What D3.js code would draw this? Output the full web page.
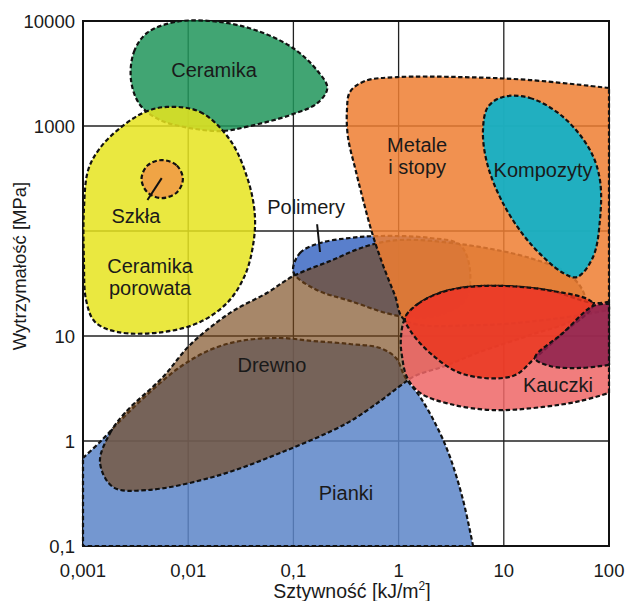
<!DOCTYPE html>
<html><head><meta charset="utf-8">
<script src="https://cdn.jsdelivr.net/npm/d3@7"></script>
<style>
body{margin:0;background:#fff}
svg{display:block}
text{font-family:"Liberation Sans",Arial,Helvetica,sans-serif;fill:#1a1a1a}
</style>
</head><body>
<svg id="chart" width="630" height="601"></svg>
<script>
// ---- axis ticks ----
const xTicks = [0.001, 0.01, 0.1, 1, 10, 100];
const xTickLabels = ["0,001", "0,01", "0,1", "1", "10", "100"];
const yGrid = [0.1, 1, 10, 100, 1000, 10000];
const yTicks = [0.1, 1, 10, 1000, 10000];
const yTickLabels = ["0,1", "1", "10", "1000", "10000"];

// ---- material regions (outline points: stiffness kJ/m², strength MPa) ----
const piankiX = [0.001,0.00145,0.0024,0.00434,0.00837,0.0161,0.0311,0.0745,0.154,0.345,0.666,0.945,1.15,1.6,2.32,3.08,4.1,5.1];
const piankiY = [0.689,0.978,1.66,2.93,5.07,7.36,8.96,9.57,8.96,8.39,7.68,6.17,4.07,2.63,1.36,0.704,0.274,0.1];

const polimeryX = [0.1,0.1155,0.179,0.345,0.666,1.99,3.83,4.77,4.28,2.47,1.03,0.345,0.16];
const polimeryY = [40.7,61.7,76.8,85.8,89.6,85.8,73.6,42.5,22,15.9,15.5,21.6,28];

const drewnoX = [0.00145,0.00181,0.0025,0.00576,0.0104,0.025,0.056,0.1,0.223,0.5,1.03,3.83,17.7,42.6,59,47.5,17.7,5.9,2.76,1.43,1.03,0.666,0.323,0.0745,0.0172,0.00406,0.00193];
const drewnoY = [0.631,1.19,1.85,4.07,8.21,16.6,25.7,37.3,51.8,72,82.1,75.2,55.3,38.1,23,14.8,10.2,7.04,5.18,4.16,3.34,2.4,1.48,0.768,0.454,0.341,0.364];

const ceramikaX = [0.00286,0.00305,0.00406,0.0075,0.018,0.0432,0.099,0.17,0.21,0.17,0.093,0.0387,0.021,0.0104,0.0054,0.00348];
const ceramikaY = [2740,5070,7690,9780,9900,8210,5530,3340,2300,1660,1270,1000,896,956,1140,1590];

const porowataX = [0.0063,0.013,0.025,0.037,0.043,0.0414,0.0347,0.0239,0.013,0.00576,0.00215,0.0013,0.00107,0.00102,0.00102,0.00112,0.00145,0.00225,0.00388];
const porowataY = [1520,1360,736,306,142,73.6,38.1,21.1,13.6,10.9,10.9,13.6,22,53,159,381,617,956,1360];

const szklaX = [0.0056,0.0078,0.0089,0.0078,0.0056,0.0041,0.0036,0.0041];
const szklaY = [474,420,313,233,206,233,313,420];

const metaleX = [100,17.7,4.1,0.966,0.479,0.345,0.323,0.33,0.39,0.46,0.56,0.71,0.92,1.15,5.9,34.2,100];
const metaleY = [2300,2740,2920,2920,2680,2110,1420,786,381,197,95.7,47.4,24.6,14.2,12.7,14.8,17.7];

const kompozytyX = [9.8,17.7,36.6,66,82,82,70.5,49.7,36.6,17.7,9.8,6.93,6.34,7.07];
const kompozytyY = [1890,1850,1220,590,306,127,56.5,36.4,39.8,76.8,185,444,916,1520];

const kauczukiX = [100,70.5,25.7,5.9,2.64,1.53,1.15,1.05,1.08,1.2,1.6,3.08,7.9,23.6,53,100];
const kauczukiY = [21.1,20.6,27.4,29.9,26.3,20.2,14.8,9.16,6.31,4.07,2.87,2.25,1.97,2.11,2.4,2.87];

const redX = [1.15,1.53,2.64,5.9,25.7,70.5,36.6,19.8,12.2,4.1,1.99,1.28];
const redY = [14.8,20.2,26.3,29.9,27.4,20.2,10.7,6.17,4.16,4.34,6.89,11.4];

const purpleX = [100,53,27.5,19.8,36.6,70.5,100];
const purpleY = [5.3,4.96,5.18,6.17,10.7,19.3,20.2];

// ---- labels ----
const labelNames = ["Ceramika","Szkła","Ceramika|porowata","Polimery","Metale|i stopy","Kompozyty","Drewno","Kauczki","Pianki"];
const labelX = [0.0176,0.00319,0.00434,0.132,1.5,23.6,0.0625,32.7,0.316];
const labelY = [3410,139,46.4,169,659,381,5.3,3.41,0.32];

const szklaLineX = [0.0041,0.0056];
const szklaLineY = [197,319];
const polimeryLineX = [0.168,0.179];
const polimeryLineY = [116,63.1];

// ---- drawing ----
const svg = d3.select("#chart");
const x = d3.scaleLog().domain([0.001,100]).range([83,609]);
const y = d3.scaleLog().domain([0.1,10000]).range([546,21]);
const [x0,x1] = x.range(), [y0,y1] = y.range();

svg.append("defs").append("clipPath").attr("id","plotclip")
  .append("rect").attr("x",x0-2).attr("y",y1-2).attr("width",x1-x0+4).attr("height",y0-y1+4);

// grid
const grid = svg.append("g");
grid.selectAll("line.v").data(xTicks).join("line")
  .attr("x1",d=>x(d)).attr("x2",d=>x(d)).attr("y1",y0).attr("y2",y1)
  .attr("stroke","#222").attr("stroke-width",1.3);
grid.selectAll("line.h").data(yGrid).join("line")
  .attr("y1",d=>y(d)).attr("y2",d=>y(d)).attr("x1",x0).attr("x2",x1)
  .attr("stroke","#222").attr("stroke-width",1.3);
grid.append("rect").attr("x",x0).attr("y",y1).attr("width",x1-x0).attr("height",y0-y1)
  .attr("fill","none").attr("stroke","#111").attr("stroke-width",2);

const pts = (xs,ys) => xs.map((v,i)=>[x(v),y(ys[i])]);
const closedLine = d3.line().curve(d3.curveCatmullRomClosed.alpha(0.5));
const openLine = d3.line().curve(d3.curveCatmullRom.alpha(0.5));

const shapes = [
  {d: openLine(pts(piankiX,piankiY)) + "L" + x(xTicks[0]) + "," + y(yGrid[0]) + "Z", fill:"rgb(92,133,200)", op:0.85},
  {d: closedLine(pts(polimeryX,polimeryY)), fill:"rgb(60,105,195)", op:0.85},
  {d: closedLine(pts(drewnoX,drewnoY)), fill:"rgb(120,70,25)", op:0.65},
  {d: closedLine(pts(ceramikaX,ceramikaY)), fill:"rgb(32,149,90)", op:0.85},
  {d: closedLine(pts(porowataX,porowataY)), fill:"rgb(230,228,30)", op:0.85},
  {d: closedLine(pts(szklaX,szklaY)), fill:"rgb(240,160,70)", op:0.95},
  {d: openLine(pts(metaleX,metaleY)) + "Z", fill:"rgb(238,126,49)", op:0.85},
  {d: closedLine(pts(kompozytyX,kompozytyY)), fill:"rgb(10,179,204)", op:0.9},
  {d: openLine(pts(kauczukiX,kauczukiY)) + "Z", fill:"rgb(238,102,102)", op:0.85},
  {d: closedLine(pts(redX,redY)), fill:"rgb(234,54,31)", op:0.85},
  {d: openLine(pts(purpleX,purpleY)) + "Z", fill:"rgb(140,30,75)", op:0.85}
];

const sg = svg.append("g").attr("clip-path","url(#plotclip)");
shapes.forEach(s=>{
  sg.append("path").attr("d",s.d).attr("fill",s.fill).attr("fill-opacity",s.op)
    .attr("stroke","#111").attr("stroke-width",2.2).attr("stroke-dasharray","4.5,2.5")
    .attr("stroke-linejoin","round");
});

// leader lines
[[szklaLineX,szklaLineY],[polimeryLineX,polimeryLineY]].forEach(([lx,ly])=>{
  svg.append("line").attr("x1",x(lx[0])).attr("y1",y(ly[0])).attr("x2",x(lx[1])).attr("y2",y(ly[1]))
    .attr("stroke","#111").attr("stroke-width",2);
});

// region labels
labelNames.forEach((name,i)=>{
  const t = svg.append("text").attr("x",x(labelX[i])).attr("y",y(labelY[i]))
    .attr("text-anchor","middle").attr("font-size",20);
  name.split("|").forEach((line,j)=>{
    t.append("tspan").attr("x",x(labelX[i])).attr("dy", j===0 ? "0.35em" : "1.12em").text(line);
  });
});

// tick labels
svg.append("g").selectAll("text").data(xTicks).join("text")
  .attr("x",d=>x(d)).attr("y",y0+31).attr("text-anchor","middle").attr("font-size",18.5)
  .text((d,i)=>xTickLabels[i]);
svg.append("g").selectAll("text").data(yTicks).join("text")
  .attr("x",x0-8).attr("y",d=>y(d)).attr("dy","0.38em").attr("text-anchor","end").attr("font-size",18.5)
  .text((d,i)=>yTickLabels[i]);

// axis titles
const xt = svg.append("text").attr("x",(x0+x1)/2+6).attr("y",598).attr("text-anchor","middle").attr("font-size",19.5);
xt.append("tspan").text("Sztywność [kJ/m");
xt.append("tspan").attr("font-size",12).attr("dy",-8).text("2");
xt.append("tspan").attr("dy",8).text("]");
svg.append("text").attr("transform","translate(26,266) rotate(-90)").attr("text-anchor","middle")
  .attr("font-size",18.5).text("Wytrzymałość [MPa]");
</script>
</body></html>
